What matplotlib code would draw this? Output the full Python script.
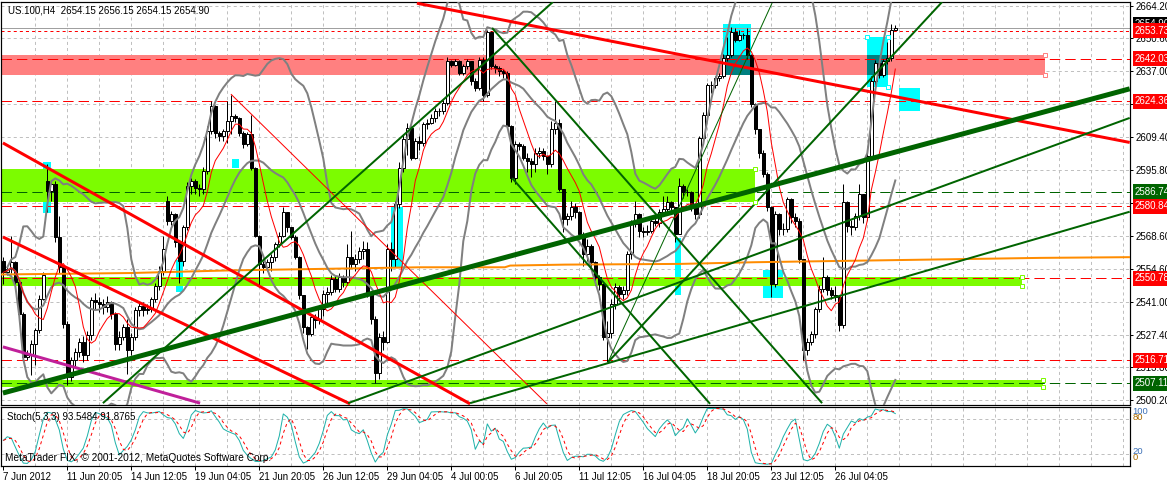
import numpy as np
import pandas as pd
import matplotlib
matplotlib.use("Agg")
import matplotlib.pyplot as plt
from matplotlib.transforms import blended_transform_factory

plt.rcParams['font.family'] = ['Liberation Sans', 'DejaVu Sans']
plt.rcParams['lines.scale_dashes'] = False

PX = 0.72  # one pixel in points at dpi 100

# ---- US.100 H4 candles, 7 Jun - 27 Jul 2012 ----
first_open = 2558.2
gap_opens = {11: 2591.3, 41: 2583.0}

close = [
    2553.3, 2554.7, 2557.5, 2549.2, 2536.1, 2518.1, 2518.8, 2523.7, 2529.2, 2542.3,
    2552.0, 2587.1, 2589.9, 2567.8, 2555.4, 2531.9, 2509.9, 2516.8, 2520.2, 2524.4,
    2518.8, 2527.1, 2541.6, 2540.9, 2540.2, 2538.8, 2540.9, 2536.1, 2523.7, 2526.4,
    2530.6, 2520.9, 2526.4, 2537.5, 2539.5, 2537.5, 2538.2, 2542.3, 2547.8, 2554.0,
    2563.0, 2574.7, 2577.5, 2565.8, 2558.2, 2572.0, 2589.2, 2591.3, 2588.5, 2587.8,
    2595.4, 2612.0, 2622.3, 2611.3, 2609.9, 2612.0, 2616.1,
    2618.3, 2617.6, 2611.3, 2606.5, 2610.7, 2596.8, 2568.6, 2556.8, 2555.4, 2557.5,
    2559.6, 2565.1, 2568.6, 2578.2, 2572.0, 2568.0, 2559.6, 2543.7, 2530.6, 2527.8,
    2534.7, 2533.4, 2538.2, 2544.4, 2545.1, 2550.6, 2546.5, 2551.3, 2549.2, 2559.6,
    2556.8, 2558.9, 2562.3, 2563.0, 2544.4, 2534.0, 2511.3, 2526.5, 2524.4, 2563.0,
    2558.9, 2581.7,
    2596.8, 2608.6, 2613.4, 2601.0, 2607.9, 2607.2, 2614.8, 2615.5, 2617.6, 2620.3,
    2620.3, 2623.8, 2641.0, 2639.6,
    2641.0, 2636.2, 2638.9, 2641.0, 2632.7, 2630.0, 2641.7, 2627.2, 2653.4, 2638.9,
    2638.2, 2636.9, 2636.2, 2614.1, 2592.7, 2606.5, 2605.8, 2601.0, 2599.6, 2598.2,
    2603.1, 2603.8, 2601.7, 2598.2, 2612.7, 2615.5, 2587.9, 2575.4, 2576.8, 2580.3,
    2578.2, 2569.2, 2560.9, 2564.4, 2557.5, 2551.3, 2548.5, 2526.5, 2528.0, 2540.3,
    2547.2, 2544.4, 2545.8, 2560.9, 2573.4, 2577.5, 2570.6, 2569.9, 2570.6, 2574.8,
    2574.0, 2578.2, 2579.6, 2582.4, 2580.3, 2569.2,
    2589.3, 2586.5, 2586.5, 2580.3, 2577.5, 2609.3, 2618.9, 2631.3, 2631.3, 2634.1,
    2634.8, 2642.4, 2643.8, 2653.4, 2650.0, 2652.1, 2652.1, 2643.8, 2623.1, 2612.7,
    2603.1, 2594.1, 2580.3, 2548.5, 2577.5, 2571.3, 2571.3, 2583.7, 2576.1, 2574.8,
    2558.9, 2520.9, 2524.4, 2527.8, 2538.2, 2546.5, 2551.3, 2545.8, 2543.7, 2543.0,
    2531.3, 2582.4, 2572.7, 2572.0, 2576.8, 2585.8, 2576.1, 2601.7, 2632.7, 2640.3,
    2635.5, 2641.0, 2642.4, 2654.15, 2654.9,
]

high = [
    2559.6, 2556.0, 2568.5, 2558.0, 2550.0, 2537.0, 2521.0, 2525.0, 2530.0, 2544.0,
    2553.3, 2598.2, 2591.0, 2591.3, 2576.8, 2556.0, 2533.0, 2518.0, 2522.0, 2526.0,
    2527.0, 2529.0, 2543.0, 2544.5, 2543.0, 2542.0, 2543.5, 2541.5, 2537.0, 2529.0,
    2532.0, 2534.0, 2528.0, 2539.0, 2541.0, 2541.0, 2540.0, 2543.0, 2549.0, 2556.0,
    2568.5, 2585.1, 2579.0, 2578.0, 2566.0, 2573.0, 2591.0, 2592.5, 2592.0, 2590.0,
    2597.0, 2614.0, 2624.4, 2623.0, 2612.0, 2613.0, 2624.5,
    2627.2, 2619.0, 2618.0, 2612.0, 2611.5, 2618.9, 2597.0, 2569.0, 2558.0, 2559.0,
    2561.0, 2566.0, 2569.9, 2580.3, 2578.5, 2572.0, 2569.0, 2560.0, 2544.0, 2531.0,
    2536.0, 2536.0, 2539.6, 2546.0, 2547.0, 2552.0, 2552.0, 2553.0, 2552.0, 2565.0,
    2570.6, 2561.0, 2564.0, 2566.5, 2566.0, 2545.0, 2535.0, 2528.0, 2529.0, 2565.0,
    2566.0, 2583.0,
    2599.0, 2610.7, 2615.5, 2614.0, 2609.0, 2610.0, 2616.0, 2617.0, 2619.0, 2621.5,
    2621.5, 2625.0, 2643.0, 2641.5,
    2642.0, 2641.5, 2640.0, 2642.0, 2641.0, 2634.0, 2643.0, 2643.0, 2654.1, 2653.5,
    2640.0, 2639.0, 2638.0, 2637.0, 2614.5, 2608.0, 2607.5, 2606.5, 2603.0, 2601.0,
    2605.0, 2605.5, 2605.0, 2602.0, 2616.2, 2624.5, 2617.0, 2588.0, 2578.0, 2583.0,
    2582.0, 2579.0, 2570.0, 2567.0, 2565.0, 2558.0, 2552.0, 2549.0, 2533.0, 2542.0,
    2549.0, 2548.0, 2547.5, 2562.0, 2575.0, 2583.0, 2578.0, 2572.0, 2573.0, 2576.0,
    2576.5, 2579.5, 2585.0, 2585.0, 2583.0, 2580.5,
    2592.7, 2590.0, 2588.0, 2587.0, 2581.0, 2610.0, 2620.0, 2632.0, 2633.0, 2635.0,
    2636.0, 2644.0, 2651.0, 2655.5, 2655.0, 2654.0, 2653.0, 2654.8, 2644.0, 2623.5,
    2613.0, 2604.0, 2595.0, 2581.0, 2579.0, 2578.0, 2574.0, 2584.5, 2584.0, 2578.0,
    2576.0, 2559.0, 2526.0, 2529.0, 2539.0, 2548.0, 2559.6, 2552.0, 2547.0, 2547.5,
    2544.0, 2590.0, 2583.0, 2575.0, 2578.0, 2590.0, 2586.0, 2603.0, 2635.0, 2641.5,
    2641.0, 2642.0, 2649.0, 2656.5, 2656.15,
]

low = [
    2548.5, 2552.0, 2553.0, 2547.8, 2533.3, 2517.5, 2516.8, 2510.5, 2514.7, 2528.0,
    2541.6, 2578.2, 2583.0, 2566.0, 2553.0, 2530.0, 2506.4, 2508.0, 2514.0, 2518.0,
    2516.0, 2517.0, 2525.0, 2538.0, 2537.0, 2536.0, 2537.0, 2534.0, 2521.0, 2521.0,
    2525.0, 2511.0, 2519.0, 2525.0, 2535.0, 2535.0, 2536.0, 2537.0, 2541.0, 2546.0,
    2552.0, 2573.0, 2573.0, 2564.0, 2549.0, 2556.0, 2571.0, 2586.0, 2586.0, 2585.0,
    2586.0, 2594.0, 2611.0, 2609.0, 2608.0, 2608.0, 2607.0,
    2611.0, 2616.0, 2610.0, 2605.0, 2606.0, 2596.0, 2568.0, 2548.0, 2553.0, 2554.0,
    2554.0, 2558.0, 2564.0, 2568.0, 2570.0, 2567.0, 2559.0, 2542.0, 2528.0, 2521.6,
    2527.0, 2530.0, 2532.0, 2535.0, 2540.0, 2544.0, 2545.0, 2545.0, 2547.0, 2548.0,
    2555.0, 2554.0, 2557.0, 2559.0, 2543.0, 2532.0, 2507.1, 2509.0, 2521.0, 2524.0,
    2554.0, 2555.4,
    2580.0, 2595.0, 2602.0, 2600.0, 2600.5, 2604.0, 2606.0, 2613.0, 2615.0, 2616.0,
    2618.5, 2619.0, 2623.0, 2638.5,
    2639.0, 2635.5, 2635.5, 2638.0, 2631.0, 2628.5, 2629.0, 2624.5, 2626.0, 2638.0,
    2636.0, 2635.0, 2634.0, 2613.0, 2591.0, 2590.0, 2604.0, 2600.0, 2595.0, 2593.0,
    2595.0, 2601.0, 2600.0, 2594.0, 2597.0, 2611.0, 2587.0, 2570.0, 2573.0, 2575.0,
    2576.0, 2568.0, 2556.0, 2558.0, 2555.0, 2548.0, 2546.0, 2525.0, 2516.1, 2526.0,
    2538.0, 2542.0, 2542.0, 2544.0, 2559.0, 2572.0, 2568.0, 2568.0, 2569.0, 2569.5,
    2572.5, 2572.0, 2577.0, 2578.0, 2578.5, 2566.0,
    2576.0, 2584.0, 2585.0, 2579.0, 2575.5, 2576.0, 2608.0, 2617.0, 2628.0, 2630.0,
    2633.0, 2634.0, 2641.0, 2643.0, 2649.0, 2649.5, 2650.5, 2642.0, 2622.0, 2611.0,
    2601.0, 2593.0, 2579.0, 2543.0, 2547.0, 2569.0, 2569.0, 2570.0, 2574.0, 2572.0,
    2557.0, 2516.8, 2519.0, 2523.0, 2526.0, 2537.0, 2545.0, 2544.0, 2542.0, 2541.5,
    2529.0, 2530.0, 2570.0, 2569.0, 2571.0, 2575.0, 2574.0, 2575.0, 2600.0, 2630.0,
    2634.0, 2634.5, 2640.0, 2641.0, 2654.15,
]

# axis labels
price_ticks = [2664.20, 2650.60, 2637.00, 2623.40, 2609.40, 2595.80, 2582.20,
               2568.60, 2554.60, 2541.00, 2527.40, 2513.80, 2500.20]
date_bars = list(range(0, 209, 16))
date_labels = ['7 Jun 2012', '11 Jun 20:05', '14 Jun 12:05', '19 Jun 04:05',
               '21 Jun 20:05', '26 Jun 12:05', '29 Jun 04:05', '4 Jul 00:05',
               '6 Jul 20:05', '11 Jul 12:05', '16 Jul 04:05', '18 Jul 20:05',
               '23 Jul 12:05', '26 Jul 04:05']

# horizontal levels (with their price tags on the axis)
levels = [2653.73, 2642.03, 2624.36, 2586.74, 2580.84, 2550.78, 2516.71, 2507.11]
level_kind = ['res', 'res', 'res', 'sup', 'res', 'res', 'res', 'sup']
bid_price = 2654.90

# filled zones: right end (bar), low, high
zone_end = [260.4, 187.9, 254.7, 259.9]
zone_lo = [2635.3, 2582.5, 2547.7, 2505.5]
zone_hi = [2643.7, 2596.3, 2551.5, 2508.5]
zone_kind = ['res', 'sup', 'sup', 'sup']

# cyan signal boxes: bar from/to, price low/high
box_b0 = [9.9, 43.2, 57.2, 96.9, 167.9, 179.9, 189.9, 215.9, 223.9]
box_b1 = [11.9, 44.9, 58.9, 99.9, 169.4, 186.9, 194.9, 221.2, 229.2]
box_lo = [2577.9, 2545.1, 2596.7, 2555.5, 2543.9, 2635.3, 2542.6, 2630.4, 2620.4]
box_hi = [2599.2, 2558.4, 2600.4, 2580.5, 2567.6, 2656.5, 2554.2, 2651.1, 2630.0]

# trend lines: (bar, price) -> (bar, price)
tl_b0 = [103.4, -0.1, -0.1, -0.1, 56.9, -0.1, 24.9, 86.2, 116.7, 151.2, 151.2, 122.2, 127.2]
tl_p0 = [2665.2, 2607.1, 2568.0, 2522.3, 2627.4, 2503.1, 2498.9, 2498.9, 2498.9,
         2516.0, 2516.0, 2654.9, 2592.5]
tl_b1 = [281.6, 116.7, 86.7, 49.2, 135.9, 281.6, 137.4, 281.6, 281.6, 234.7, 192.2, 204.7, 176.7]
tl_p1 = [2607.3, 2498.6, 2498.6, 2498.9, 2498.6, 2629.6, 2665.7, 2617.5, 2578.5,
         2665.7, 2665.3, 2498.9, 2498.6]
tl_style = ['red', 'red', 'red', 'mag', 'red_thin', 'green_wide', 'green', 'green',
            'green', 'green', 'green_thin', 'green', 'green']

# long moving average (orange), read as a polyline
ma_long_bars = [-0.8, 31.7, 56.7, 104.2, 125.4, 126.7, 140.4, 169.2, 187.9, 227.9, 259.2, 281.6]
ma_long_vals = [2552.4, 2553.0, 2554.1, 2555.4, 2555.4, 2556.1, 2556.5, 2556.8, 2557.5,
                2558.5, 2559.3, 2559.6]

# ---- derived series ----
close = np.array(close)
opens = np.r_[first_open, close[:-1]]
for k, v in gap_opens.items():
    opens[k] = v
high = np.maximum.reduce([np.array(high), opens, close])
low = np.minimum.reduce([np.array(low), opens, close])
n = len(close)
bars = np.arange(n)

s = pd.Series(close)
bb_mid = s.rolling(20, min_periods=2).mean()
bb_sd = s.rolling(20, min_periods=2).std(ddof=0)
bb_up = bb_mid + 2 * bb_sd
bb_dn = bb_mid - 2 * bb_sd
ma8 = s.rolling(8, min_periods=1).mean()

hh = pd.Series(high).rolling(5, min_periods=1).max()
ll = pd.Series(low).rolling(5, min_periods=1).min()
st_k = 100 * (s - ll).rolling(3, min_periods=1).sum() / (hh - ll).rolling(3, min_periods=1).sum()
st_d = st_k.rolling(3, min_periods=1).mean()

# ---- figure ----
W, H = 1167, 483
fig = plt.figure(figsize=(W / 100, H / 100), dpi=100)
fig.patch.set_facecolor('white')
L, R = 1, 1129.5
ax = fig.add_axes([L / W, 1 - 405 / H, (R - L) / W, 403 / H])
ax2 = fig.add_axes([L / W, 1 - 466 / H, (R - L) / W, 59 / H])

xlim = ((L - 3.3) / 4, (R - 3.3) / 4)
for a in (ax, ax2):
    a.set_xlim(*xlim)
    for sp in a.spines.values():
        sp.set_color('black')
        sp.set_linewidth(1.2 * PX)
    for b in range(8, 285, 8):
        a.axvline(b, color='#C0C0C0', lw=PX, ls=(0, (2.2, 2.2)), zorder=0.5)
ax.set_ylim(2498.13, 2665.7)
ax2.set_ylim(-0.5, 100.5)

for p in price_ticks:
    ax.axhline(p, color='#C0C0C0', lw=PX, ls=(0, (2.2, 2.2)), zorder=0.5)
for p in (20, 80):
    ax2.axhline(p, color='#C0C0C0', lw=PX, ls=(0, (2.2, 2.2)), zorder=0.5)

# cyan boxes, zones and their overlap
for b0, b1, lo, hi in zip(box_b0, box_b1, box_lo, box_hi):
    ax.fill_between([b0, b1], lo, hi, color='#00FFFF', lw=0, zorder=1)
zone_col = {'res': '#FF8080', 'sup': '#7CFC00'}
for x1, lo, hi, kind in zip(zone_end, zone_lo, zone_hi, zone_kind):
    ax.fill_between([-5, x1], lo, hi, color=zone_col[kind], lw=0, zorder=1.2)
    if kind == 'res':
        for b0, b1, blo, bhi in zip(box_b0, box_b1, box_lo, box_hi):
            olo, ohi = max(lo, blo), min(hi, bhi)
            if ohi > olo and b1 < x1:
                ax.fill_between([b0, b1], olo, ohi, color='#008080', lw=0, zorder=1.3)
    ax.plot([x1, x1], [lo, hi], ls='none', marker='s', ms=3.2, mfc='white',
            mec=zone_col[kind], mew=PX, zorder=6, clip_on=False)
ax.plot([box_b0[7], box_b1[7], box_b1[7]], [box_hi[7], box_hi[7], box_lo[7]], ls='none',
        marker='s', ms=3.2, mfc='white', mec='#00FFFF', mew=PX, zorder=6)

# horizontal levels
lvl_col = {'res': '#FF0000', 'sup': '#006400'}
for i, (p, kind) in enumerate(zip(levels, level_kind)):
    ls = (0, (2.2, 2.2)) if i == 0 else (0, (7.5, 3.6))
    ax.axhline(p, color=lvl_col[kind], lw=PX, ls=ls, zorder=2)
ax.axhline(bid_price, color='#A0A0A0', lw=PX, zorder=2)

# candles
up = close >= opens
ax.vlines(bars, low, high, color='black', lw=PX, zorder=3)
ax.bar(bars[up], close[up] - opens[up], bottom=opens[up], width=0.62,
       color='white', edgecolor='black', lw=PX, zorder=3.2)
ax.bar(bars[~up], opens[~up] - close[~up], bottom=close[~up], width=0.62,
       color='black', edgecolor='black', lw=PX, zorder=3.2)

# indicators
ax.plot(ma_long_bars, ma_long_vals, color='#FF8C00', lw=2 * PX, zorder=3.5)
for band in (bb_up, bb_mid, bb_dn):
    ax.plot(bars, band, color='#808080', lw=2 * PX, zorder=3.5)
ax.plot(bars, ma8, color='#FF0000', lw=PX, zorder=3.6)

# trend lines
tl_fmt = {'red': ('#FF0000', 3), 'red_thin': ('#FF0000', 1), 'mag': ('#C0209A', 3),
          'green': ('#006400', 2), 'green_thin': ('#006400', 1), 'green_wide': ('#006400', 5)}
for b0, p0, b1, p1, st in zip(tl_b0, tl_p0, tl_b1, tl_p1, tl_style):
    c, w = tl_fmt[st]
    ax.plot([b0, b1], [p0, p1], color=c, lw=w * PX, zorder=4, solid_capstyle='butt')

# right price scale
ax.set_xticks([])
ax.yaxis.tick_right()
ax.set_yticks(price_ticks)
ax.set_yticklabels(['%.2f' % p for p in price_ticks])
ax.tick_params(axis='y', length=2.5, width=PX, pad=1.6, labelsize=7, colors='black')

tag_tf = blended_transform_factory(ax.transAxes, ax.transData)
x_tag = 1 + 5.5 / (R - L)
ax.text(x_tag, bid_price + 1.5, '%.2f' % bid_price, transform=tag_tf, fontsize=7,
        color='white', va='center', ha='left', zorder=8, clip_on=False,
        bbox=dict(boxstyle='square,pad=0.25', fc='black', ec='none'))
for p, kind in zip(levels, level_kind):
    ax.text(x_tag, p, '%.2f' % p, transform=tag_tf, fontsize=7, color='white',
            va='center', ha='left', zorder=9, clip_on=False,
            bbox=dict(boxstyle='square,pad=0.25', fc=lvl_col[kind], ec='none'))

ax.text(7 / (R - L), 1 - 8.5 / 403, 'US.100,H4  2654.15 2656.15 2654.15 2654.90',
        transform=ax.transAxes, fontsize=7, va='center', ha='left', zorder=10)

# stochastic panel
ax2.plot(bars, st_k, color='#20B2AA', lw=PX, zorder=3)
ax2.plot(bars, st_d, color='#FF0000', lw=PX, ls=(0, (2.2, 2.2)), zorder=3.1)
ax2.set_yticks([])
ax2.set_xticks(date_bars)
ax2.set_xticklabels(date_labels, ha='left')
ax2.tick_params(axis='x', length=3, width=PX, pad=1.5, labelsize=7, colors='black')
ax2.text(6 / (R - L), (466 - 417) / 59, 'Stoch(5,3,3) 93.5484 91.8765',
         transform=ax2.transAxes, fontsize=7, va='center', ha='left', zorder=10)
ax2.text(4 / (R - L), (466 - 458) / 59,
         'MetaTrader FIX, \u00a9 2001-2012, MetaQuotes Software Corp.',
         transform=ax2.transAxes, fontsize=7.3, va='center', ha='left', zorder=10)
for txt, ypx, col in (('100', 412, '#3B6FB6'), ('80', 417.5, '#A86A00'),
                      ('20', 452, '#3B6FB6'), ('0', 457.5, '#A86A00')):
    fig.text(1132.5 / W, 1 - ypx / H, txt, fontsize=6.8, color=col, va='center', ha='left')

fig.savefig('out.png', dpi=100, facecolor='white')
